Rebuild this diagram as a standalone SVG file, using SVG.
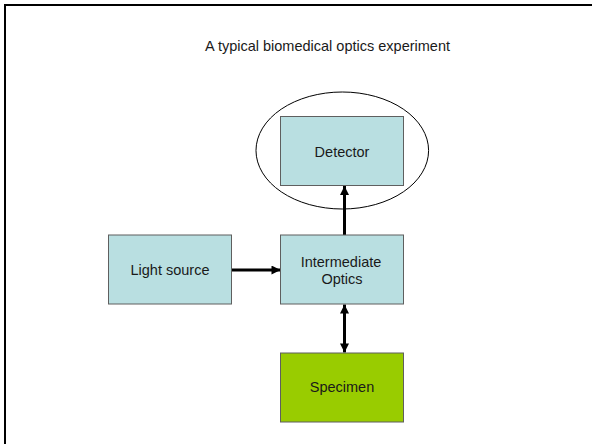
<svg xmlns="http://www.w3.org/2000/svg" width="592" height="444" viewBox="0 0 592 444">
<defs>
<style>
.box{stroke:#5f5f5f;stroke-width:1}
.blue{fill:#b9dfe1}
.green{fill:#99cc00}
.lbl{font-family:"Liberation Sans",Arial,sans-serif;font-size:14.5px;fill:#1a1a1a;text-anchor:middle}
.conn{stroke:#000;stroke-width:3;fill:none}
</style>
<marker id="ah" viewBox="0 0 10 10" refX="10" refY="5" markerWidth="10" markerHeight="9" markerUnits="userSpaceOnUse" orient="auto-start-reverse">
<path d="M0,0 L10,5 L0,10 z" fill="#000"/>
</marker>
</defs>
<rect width="592" height="444" fill="#fff"/>
<path d="M5,444 V5 H592" fill="none" stroke="#000" stroke-width="2"/>
<text class="lbl" x="327.5" y="51">A typical biomedical optics experiment</text>
<g id="connectors">
<line class="conn" x1="344.5" y1="235" x2="344.5" y2="186" marker-end="url(#ah)"/>
<line class="conn" x1="231.5" y1="270" x2="280.5" y2="270" marker-end="url(#ah)"/>
<line class="conn" x1="344.5" y1="304.5" x2="344.5" y2="352.5" marker-start="url(#ah)" marker-end="url(#ah)"/>
</g>
<g id="detector-group">
<ellipse cx="342.3" cy="150.5" rx="86.3" ry="58.5" fill="none" stroke="#000" stroke-width="1"/>
</g>
<g id="detector">
<rect class="box blue" x="280.5" y="116.5" width="123" height="69"/>
<text class="lbl" x="342" y="157">Detector</text>
</g>
<g id="light-source">
<rect class="box blue" x="108.5" y="235" width="123" height="69"/>
<text class="lbl" x="170" y="275">Light source</text>
</g>
<g id="intermediate-optics">
<rect class="box blue" x="280.5" y="235" width="123" height="69"/>
<text class="lbl" x="341" y="266.5">Intermediate</text>
<text class="lbl" x="342" y="284">Optics</text>
</g>
<g id="specimen">
<rect class="box green" x="280.5" y="353" width="123" height="69"/>
<text class="lbl" x="342" y="392">Specimen</text>
</g>
</svg>
